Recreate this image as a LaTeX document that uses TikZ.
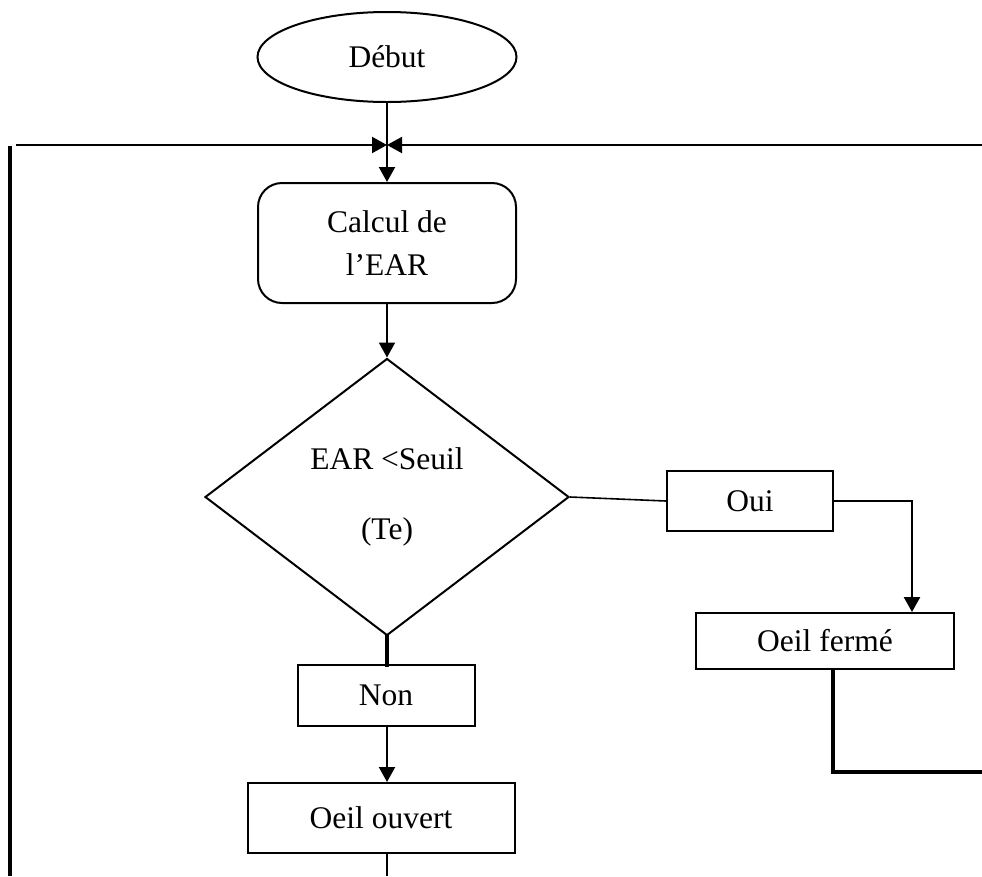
\documentclass[tikz,border=0pt]{standalone}
\usepackage{fontspec}
\setmainfont{Liberation Serif}
\usetikzlibrary{shapes.geometric,arrows.meta,calc}

\begin{document}
\begin{tikzpicture}[x=1pt,y=-1pt,
  every node/.style={font=\fontsize{31.5}{43}\selectfont, inner sep=0pt},
  conn/.style={line width=2.1pt},
  heavy/.style={line width=3.4pt},
  flow/.style={conn,-{Triangle[width=16pt,length=15pt]}},
  terminal/.style={draw,line width=2pt,ellipse,minimum width=259pt,minimum height=90pt},
  procbox/.style={draw,line width=2pt,rounded corners=24pt,minimum width=258pt,minimum height=120pt,align=center},
  decision/.style={draw,line width=2pt,diamond,aspect=1.31,minimum width=364pt,minimum height=277pt,align=center},
  plainbox/.style={draw,line width=2pt,rectangle}
]
\useasboundingbox[fill=white] (0,0) rectangle (982,876);

% flowchart blocks
\node[terminal] (debut) at (387,57) {Début};
\node[procbox] (calc) at (387,243) {Calcul de\\l’EAR};
\node[decision] (test) at (387,497) {EAR <Seuil\\[27pt](Te)};
\node[plainbox,minimum width=166pt,minimum height=60pt] (oui) at (750,501) {Oui};
\node[plainbox,minimum width=258pt,minimum height=56pt] (ferme) at (825,641) {Oeil fermé};
\node[plainbox,minimum width=177pt,minimum height=61pt] (non) at (386,695) {Non};
\node[plainbox,minimum width=267pt,minimum height=70pt] (ouvert) at (381,818) {Oeil ouvert};

% loop-back junction above the computation step
\coordinate (join) at (387,145);
\coordinate (loopL) at (16,145);
\coordinate (loopR) at (982,145);
\coordinate (leftTop) at (10,146);
\coordinate (leftBot) at (10,876);
\coordinate (rightEnd) at (982,772);
\coordinate (bottomEnd) at (387,876);

\draw[flow] (debut.south) -- (calc.north);
\draw[flow] (loopL) -- (join);
\draw[flow] (loopR) -- (join);
\draw[line width=3.8pt] (leftTop) -- (leftBot);

% main flow
\draw[flow] (calc.south) -- (test.north);
\draw[line width=1.6pt] (test.east) -- (oui.west);
\draw[flow,line width=2.6pt] (oui.east) -| ([xshift=87pt]ferme.north);
\draw[heavy] ([xshift=8pt]ferme.south) |- (rightEnd);
\draw[heavy] ([yshift=3pt]test.south) -- ([yshift=-3pt]test.south |- non.north);
\draw[flow] (non.south -| test.south) -- (ouvert.north -| test.south);
\draw[conn] (ouvert.south -| bottomEnd) -- (bottomEnd);
\end{tikzpicture}
\end{document}
